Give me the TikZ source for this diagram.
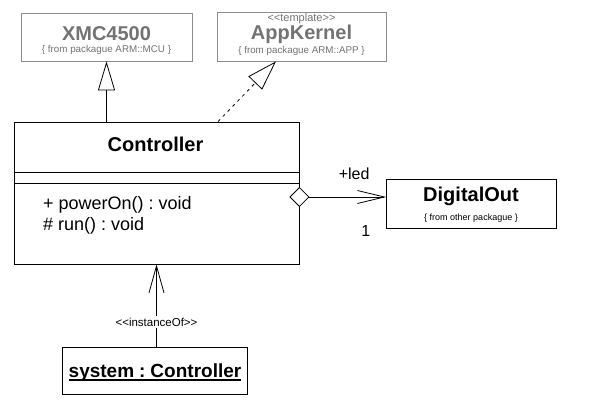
\documentclass[tikz,border=0pt]{standalone}
\usepackage{fontspec}
\setmainfont{Liberation Sans}
\usetikzlibrary{arrows.meta}
\definecolor{gborder}{HTML}{8C8C8C}
\definecolor{gtext}{HTML}{737373}
\tikzset{
  graybox/.style={draw=gborder, line width=0.8pt, rectangle, minimum width=#1, inner sep=0pt},
  blackbox/.style={draw=black, line width=0.8pt, rectangle, inner sep=0pt},
  lbl/.style={inner sep=0pt, font=#1},
  conn/.style={line width=0.8pt, draw=black},
}
\newcommand{\myul}[1]{\setbox0\hbox{#1}\rlap{\vrule width\wd0 height -1.2pt depth 2.6pt}\box0}
\newcommand{\colsep}{\hspace{5pt}:\hspace{5pt}}
\begin{document}
\begin{tikzpicture}[x=1pt,y=-1pt]
\useasboundingbox[fill=white] (0,0) rectangle (596,406);
% boxes
\node[graybox=171pt, minimum height=48pt] (xmc) at (106.5,37) {};
\node[graybox=169pt, minimum height=49pt] (app) at (301.5,36.5) {};
\node[blackbox, minimum width=285pt, minimum height=142pt] (ctrl) at (156.5,193) {};
\node[blackbox, minimum width=170pt, minimum height=49pt] (dig) at (471.5,203.5) {};
\node[blackbox, minimum width=185pt, minimum height=47pt] (inst) at (154.5,370.5) {};
% compartments
\draw[conn] (ctrl.west |- 0,172) -- (ctrl.east |- 0,172);
\draw[conn] (ctrl.west |- 0,183) -- (ctrl.east |- 0,183);
% texts
\node[lbl={\fontsize{20}{22}\selectfont\bfseries}, text=gtext] (xmct) at (106.5,34) {XMC4500};
\node[lbl={\fontsize{9.8}{11}\selectfont}, text=gtext] (xmcs) at (106.5,50) {\{ from packague ARM::MCU \}};
\node[lbl={\fontsize{11}{12}\selectfont}, text=gtext] (appst) at (301.5,19) {<{}<template>{}>};
\node[lbl={\fontsize{20}{22}\selectfont\bfseries}, text=gtext] (appt) at (301.5,34) {AppKernel};
\node[lbl={\fontsize{9.8}{11}\selectfont}, text=gtext] (apps) at (301.5,51) {\{ from packague ARM::APP \}};
\node[lbl={\fontsize{20}{22}\selectfont\bfseries}] (ctrlt) at (155.5,144) {Controller};
\node[lbl={\fontsize{18}{20}\selectfont}, anchor=west] (op1) at (43,205) {+ powerOn()\colsep void};
\node[lbl={\fontsize{18}{20}\selectfont}, anchor=west] (op2) at (43,226) {\# run()\colsep void};
\node[lbl={\fontsize{20}{22}\selectfont\bfseries}] (digt) at (471,196) {DigitalOut};
\node[lbl={\fontsize{9}{10}\selectfont}] (digs) at (471,218) {\{ from other packague \}};
\node[lbl={\fontsize{19}{22}\selectfont\bfseries}] (instt) at (155,373) {\myul{system\colsep Controller}};
% connectors
\draw[conn, -{Triangle[open, length=29pt, width=17pt]}] (ctrl.north -| xmc.south) -- (xmc.south);
\draw[conn, dash pattern=on 3pt off 4pt, -{Triangle[open, length=30pt, width=19pt]}] ([xshift=61.5pt]ctrl.north) -- ([xshift=-25.5pt]app.south);
\draw[conn, {Diamond[fill=white, length=20pt, width=20pt]}-{Straight Barb[length=27pt, width=13pt]}] ([xshift=-10pt,yshift=-4pt]ctrl.east) -- ([yshift=-4pt]ctrl.east -| dig.west)
  node[pos=0.67, above=17pt, lbl={\fontsize{16}{18}\selectfont}] (led) {+led}
  node[pos=0.79, below=28pt, lbl={\fontsize{16}{18}\selectfont}] (one) {1};
\draw[conn, -{Straight Barb[length=27pt, width=15pt]}] (inst.north -| ctrl.south) -- (ctrl.south)
  node[pos=0.3, fill=white, inner sep=2pt, font=\fontsize{11.5}{12}\selectfont] (iof) {<{}<instanceOf>{}>};
\end{tikzpicture}
\end{document}
